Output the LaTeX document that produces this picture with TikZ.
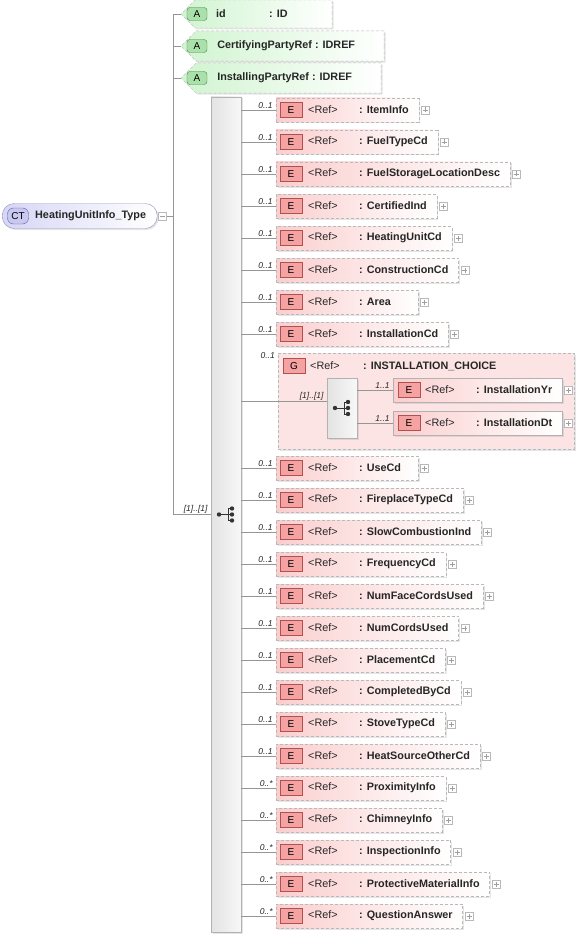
\documentclass[tikz,border=0pt]{standalone}
\usepackage{fontspec}
\setmainfont{Liberation Sans}
\usetikzlibrary{shapes.misc, positioning, shadows}

\definecolor{ctfill}{RGB}{214,214,246}
\definecolor{ctedge}{RGB}{150,150,190}
\definecolor{ctbadgefill}{RGB}{200,200,240}
\definecolor{ctbadgeedge}{RGB}{95,95,165}
\definecolor{atfill}{RGB}{208,244,208}
\definecolor{atbadgefill}{RGB}{170,225,170}
\definecolor{atbadgeedge}{RGB}{70,130,70}
\definecolor{elfill}{RGB}{251,206,206}
\definecolor{elbadgefill}{RGB}{244,162,162}
\definecolor{elbadgeedge}{RGB}{176,80,80}
\definecolor{grpfill}{RGB}{253,228,228}
\definecolor{linegray}{RGB}{150,150,150}

% pad a box to a minimum width, text stays left
\newcommand{\minwd}[2]{\setbox0=\hbox{#2}\ifdim\wd0<#1\relax\wd0=#1\relax\fi\box0}
\newcommand{\reftext}[1]{\minwd{142pt}{\hspace{32pt}\makebox[51pt][l]{\mdseries<Ref>}: #1\hspace{10pt}}}

\begin{document}
\begin{tikzpicture}[
        x=1pt, y=-1pt,
        conn/.style={draw=linegray, line width=0.7pt},
        mult/.style={font=\itshape\fontsize{8.5}{9}\selectfont, text=black!85, inner sep=1pt, anchor=south east, xshift=-2pt},
        dropsh/.style={drop shadow={shadow xshift=1.5pt, shadow yshift=-1.5pt, opacity=0.2}},
        ctbox/.style={draw=ctedge, rounded corners=12pt, left color=ctfill, right color=white, minimum height=25pt, inner sep=0pt, anchor=west, text=black!85, font=\bfseries\fontsize{10.8}{13}\selectfont, dropsh},
        ctbadge/.style={draw=ctbadgeedge, fill=ctbadgefill, rounded corners=6pt, minimum width=21pt, minimum height=16pt, inner sep=0pt, font=\fontsize{10}{10}\selectfont},
        attr/.style={chamfered rectangle, chamfered rectangle corners={north west, south west}, chamfered rectangle xsep=8pt, chamfered rectangle ysep=10pt, draw=gray!55, dash pattern=on 3pt off 2pt, left color=atfill, right color=white, minimum height=25pt, inner sep=0pt, anchor=west, text=black!85, font=\bfseries\fontsize{10.8}{13}\selectfont, dropsh},
        abadge/.style={draw=atbadgeedge, fill=atbadgefill, rounded corners=3pt, minimum width=20pt, minimum height=13pt, inner sep=0pt, font=\fontsize{10}{10}\selectfont},
        elem/.style={draw=gray!55, dash pattern=on 3pt off 2pt, left color=elfill, right color=white, minimum height=24pt, inner sep=0pt, anchor=west, text=black!85, font=\bfseries\fontsize{10.8}{13}\selectfont, dropsh},
        ebadge/.style={draw=elbadgeedge, fill=elbadgefill, minimum width=22pt, minimum height=15pt, inner sep=0pt, font=\fontsize{10}{10}\selectfont},
        group/.style={draw=gray!55, dash pattern=on 3pt off 2pt, fill=grpfill, minimum width=296pt, minimum height=96pt, anchor=north west, dropsh},
        bar/.style={draw=gray!60, left color=gray!22, right color=gray!6, inner sep=0pt, minimum width=30pt, dropsh},
        plusbox/.style={draw=gray!55, fill=white, minimum size=8pt, inner sep=0pt,
            path picture={\draw[gray!75, line width=0.5pt] ([xshift=-2.5pt]path picture bounding box.center) -- ([xshift=2.5pt]path picture bounding box.center) ([yshift=-2.5pt]path picture bounding box.center) -- ([yshift=2.5pt]path picture bounding box.center);}},
        minusbox/.style={draw=gray!55, fill=white, minimum size=8pt, inner sep=0pt,
            path picture={\draw[gray!75, line width=0.5pt] ([xshift=-2.5pt]path picture bounding box.center) -- ([xshift=2.5pt]path picture bounding box.center);}},
        icon/.style={draw=black!80, line width=1pt}
    ]
    \useasboundingbox[fill=white] (0,0) rectangle (581,936);

    % complex type
    \node[ctbox] (ct) at (2,216) {\minwd{155pt}{\hspace{33pt}HeatingUnitInfo\_Type}};
    \node[ctbadge] at ([xshift=16pt]ct.west) {CT};
    \node[minusbox, right=1pt of ct] (ctm) {};
    \coordinate (hub) at (173,216);

    % attributes
    \node[attr] (aid) at (181,14) {\minwd{143pt}{\hspace{31pt}\makebox[53pt][l]{id}: ID\hspace{24pt}}};
    \node[attr] (acp) at (181,46) {\minwd{143pt}{\hspace{31pt}CertifyingPartyRef : IDREF\hspace{24pt}}};
    \node[attr] (aip) at (181,78) {\minwd{143pt}{\hspace{31pt}InstallingPartyRef : IDREF\hspace{24pt}}};
    \node[abadge] at ([xshift=16pt]aid.west) {A};
    \node[abadge] at ([xshift=16pt]acp.west) {A};
    \node[abadge] at ([xshift=16pt]aip.west) {A};

    % sequence
    \node[bar, minimum height=835pt] (seq) at (226,514.5) {};

    \draw[conn] (ctm.east) -- (hub);
    \draw[conn] (hub |- aid) -- (hub |- seq) -- (seq.west) node[mult] {[1]..[1]};
    \draw[conn] (hub |- aid) -- (aid.west);
    \draw[conn] (hub |- acp) -- (acp.west);
    \draw[conn] (hub |- aip) -- (aip.west);

    \foreach \nm [count=\i] in {ItemInfo, FuelTypeCd, FuelStorageLocationDesc, CertifiedInd, HeatingUnitCd, ConstructionCd, Area, InstallationCd} {
        \node[elem] (e\i) at (276,{78+32*\i}) {\reftext{\nm}};
        \node[ebadge] at ([xshift=15pt]e\i.west) {E};
        \node[plusbox, right=2pt of e\i] {};
        \draw[conn] (seq.east |- e\i) -- (e\i.west) node[mult] {0..1};
    }

    % choice group
    \node[group] (grp) at (278,353) {};
    \node[ebadge] at ([xshift=16pt, yshift=-13pt]grp.north west) {G};
    \node[anchor=west, inner sep=0pt, text=black!85, font=\fontsize{10.8}{13}\selectfont] (grpt) at ([xshift=32pt, yshift=-13pt]grp.north west) {\makebox[53pt][l]{<Ref>}\textbf{: INSTALLATION\_CHOICE}};
    \node[mult, anchor=east] at ([yshift=-3pt]grp.north west) {0..1};
    \node[bar, minimum height=60pt] (cho) at (342,408) {};
    \node[elem, solid, draw=gray!60] (iyr) at (393,390) {\reftext{InstallationYr}};
    \node[elem, solid, draw=gray!60] (idt) at (393,423) {\reftext{InstallationDt}};
    \node[ebadge] at ([xshift=16pt]iyr.west) {E};
    \node[ebadge] at ([xshift=16pt]idt.west) {E};
    \node[plusbox, right=2pt of iyr] {};
    \node[plusbox, right=2pt of idt] {};

    \draw[conn] (seq.east |- grp.west) -- (grp.west);
    \draw[conn] (grp.west) -- (cho.west |- grp.west) node[mult] {[1]..[1]};
    \draw[conn] (cho.east |- iyr) -- (iyr.west) node[mult] {1..1};
    \draw[conn] (cho.east |- idt) -- (idt.west) node[mult] {1..1};

    \foreach \nm/\mt [count=\i] in {UseCd/0..1, FireplaceTypeCd/0..1, SlowCombustionInd/0..1, FrequencyCd/0..1, NumFaceCordsUsed/0..1, NumCordsUsed/0..1, PlacementCd/0..1, CompletedByCd/0..1, StoveTypeCd/0..1, HeatSourceOtherCd/0..1, ProximityInfo/0..*, ChimneyInfo/0..*, InspectionInfo/0..*, ProtectiveMaterialInfo/0..*, QuestionAnswer/0..*} {
        \node[elem] (f\i) at (276,{436+32*\i}) {\reftext{\nm}};
        \node[ebadge] at ([xshift=15pt]f\i.west) {E};
        \node[plusbox, right=2pt of f\i] {};
        \draw[conn] (seq.east |- f\i) -- (f\i.west) node[mult] {\mt};
    }

    % sequence and choice icons
    \foreach \b in {seq, cho} {
        \begin{scope}[shift={(\b.center)}]
            \draw[icon] (-7,0) -- (2,0) (2,-6) -- (2,6) (2,-6) -- (6,-6) (2,6) -- (6,6) (2,0) -- (6,0);
            \fill[black!80] (-7,0) circle (2.2pt) (6,-6) circle (2.2pt) (6,0) circle (2.2pt) (6,6) circle (2.2pt);
        \end{scope}
    }

\end{tikzpicture}
\end{document}
